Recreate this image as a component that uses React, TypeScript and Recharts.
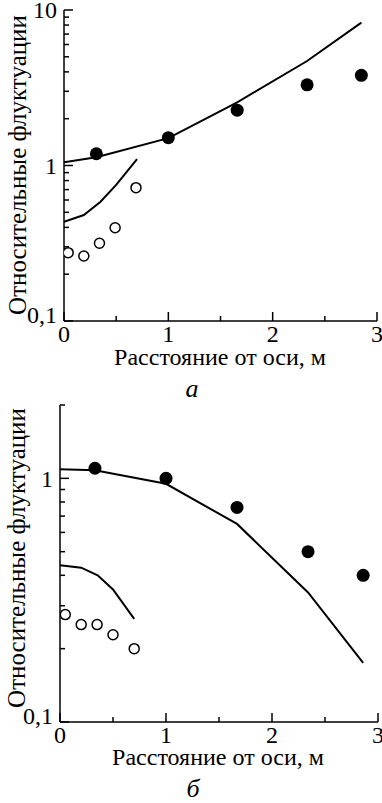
import React from "react";
import { ComposedChart, Line, Scatter, XAxis, YAxis } from "recharts";

// panel "а"
const aUpperLineX = [0, 0.31, 1.0, 1.66, 2.33, 2.85];
const aUpperLineY = [1.05, 1.13, 1.5, 2.55, 4.7, 8.3];
const aLowerLineX = [0, 0.19, 0.35, 0.5, 0.7];
const aLowerLineY = [0.435, 0.48, 0.585, 0.75, 1.1];
const aFilledX = [0.31, 1.0, 1.66, 2.33, 2.85];
const aFilledY = [1.19, 1.51, 2.27, 3.3, 3.8];
const aOpenX = [0.04, 0.19, 0.34, 0.49, 0.69];
const aOpenY = [0.275, 0.262, 0.316, 0.398, 0.72];

// panel "б"
const bUpperLineX = [0, 0.33, 1.0, 1.67, 2.34, 2.86];
const bUpperLineY = [1.09, 1.08, 0.95, 0.65, 0.34, 0.175];
const bLowerLineX = [0, 0.2, 0.355, 0.5, 0.7];
const bLowerLineY = [0.44, 0.43, 0.4, 0.35, 0.265];
const bFilledX = [0.33, 1.0, 1.67, 2.34, 2.86];
const bFilledY = [1.1, 1.0, 0.76, 0.5, 0.4];
const bOpenX = [0.05, 0.2, 0.35, 0.5, 0.7];
const bOpenY = [0.276, 0.251, 0.251, 0.228, 0.2];

const xTicks = [0, 0.5, 1, 1.5, 2, 2.5, 3];
const aYTicks = [0.1, 0.2, 0.3, 0.4, 0.5, 0.6, 0.7, 0.8, 0.9, 1, 2, 3, 4, 5, 6, 7, 8, 9, 10];
const bYTicks = [0.1, 0.2, 0.3, 0.4, 0.5, 0.6, 0.7, 0.8, 0.9, 1, 2];
const yLabels: Record<string, string> = { "0.1": "0,1", "1": "1", "10": "10" };

const FONT = '"Liberation Serif", "Times New Roman", serif';
const GAP = 7;

const zip = (xs: number[], ys: number[]) => xs.map((x, i) => ({ x, y: ys[i] }));

// ticks are drawn inside the plot, so the lines are part of the tick renderer
const XTick = (props: any) => {
  const { x, y, payload } = props;
  const axisY = y - GAP;
  const v = payload.value;
  const major = Number.isInteger(v);
  return (
    <g>
      <line x1={x} x2={x} y1={axisY} y2={axisY - (major ? 9 : 5)} stroke="#000" strokeWidth={1.5} />
      {major && (
        <text x={x} y={axisY + 4} dy="0.71em" textAnchor="middle" fontSize={24} fontFamily={FONT} fill="#000">
          {v}
        </text>
      )}
    </g>
  );
};

const YTick = (props: any) => {
  const { x, y, payload } = props;
  const axisX = x + GAP;
  const v = payload.value;
  const label = yLabels[String(v)];
  const major = label !== undefined;
  return (
    <g>
      <line x1={axisX} x2={axisX + (major ? 9 : 5)} y1={y} y2={y} stroke="#000" strokeWidth={1.5} />
      {label && (
        <text
          x={x}
          y={v === 0.1 ? y - 6 : y}
          dy="0.35em"
          textAnchor="end"
          fontSize={24}
          fontFamily={FONT}
          fill="#000"
        >
          {label}
        </text>
      )}
    </g>
  );
};

const filledDot = (p: any) => <circle cx={p.cx} cy={p.cy} r={6.5} fill="#000" />;
const openDot = (p: any) => <circle cx={p.cx} cy={p.cy} r={5} fill="#fff" stroke="#000" strokeWidth={1.5} />;

function Panel(props: {
  height: number;
  margin: any;
  yWidth: number;
  yDomain: [number, number];
  yTicks: number[];
  upper: { x: number; y: number }[];
  lower: { x: number; y: number }[];
  filled: { x: number; y: number }[];
  open: { x: number; y: number }[];
}) {
  return (
    <ComposedChart width={382} height={props.height} margin={props.margin} style={{ overflow: "visible" }}>
      <XAxis
        type="number"
        dataKey="x"
        domain={[0, 3]}
        ticks={xTicks}
        interval={0}
        tickSize={0}
        tickMargin={GAP}
        tickLine={false}
        tick={<XTick />}
        height={30}
        stroke="#000"
        strokeWidth={1.5}
        allowDataOverflow
      />
      <YAxis
        type="number"
        scale="log"
        domain={props.yDomain}
        ticks={props.yTicks}
        interval={0}
        tickSize={0}
        tickMargin={GAP}
        tickLine={false}
        tick={<YTick />}
        width={props.yWidth}
        stroke="#000"
        strokeWidth={1.5}
        allowDataOverflow
      />
      <Line data={props.upper} dataKey="y" stroke="#000" strokeWidth={2} dot={false} isAnimationActive={false} />
      <Line data={props.lower} dataKey="y" stroke="#000" strokeWidth={2} dot={false} isAnimationActive={false} />
      <Scatter data={props.filled} dataKey="y" shape={filledDot} isAnimationActive={false} />
      <Scatter data={props.open} dataKey="y" shape={openDot} isAnimationActive={false} />
    </ComposedChart>
  );
}

const textStyle: React.CSSProperties = {
  position: "absolute",
  fontFamily: FONT,
  whiteSpace: "nowrap",
  color: "#000",
  lineHeight: 1,
};

function YTitle({ cx, cy }: { cx: number; cy: number }) {
  return (
    <div
      style={{
        ...textStyle,
        left: cx,
        top: cy,
        fontSize: 25,
        transform: "translate(-50%, -50%) rotate(-90deg)",
      }}
    >
      Относительные флуктуации
    </div>
  );
}

function Caption({ cx, cy, text, size, italic }: { cx: number; cy: number; text: string; size: number; italic?: boolean }) {
  return (
    <div
      style={{
        ...textStyle,
        left: cx,
        top: cy,
        fontSize: size,
        fontStyle: italic ? "italic" : "normal",
        transform: "translate(-50%, -50%)",
      }}
    >
      {text}
    </div>
  );
}

export default function App() {
  return (
    <div style={{ position: "absolute", left: 0, top: 0, width: 382, height: 803, background: "#fff", overflow: "hidden" }}>
      <div style={{ position: "absolute", left: 0, top: 0 }}>
        <Panel
          height={400}
          margin={{ top: 10, right: 5, bottom: 49, left: 0 }}
          yWidth={64}
          yDomain={[0.1, 10]}
          yTicks={aYTicks}
          upper={zip(aUpperLineX, aUpperLineY)}
          lower={zip(aLowerLineX, aLowerLineY)}
          filled={zip(aFilledX, aFilledY)}
          open={zip(aOpenX, aOpenY)}
        />
      </div>
      <div style={{ position: "absolute", left: 0, top: 400 }}>
        <Panel
          height={403}
          margin={{ top: 5, right: 4, bottom: 51, left: 0 }}
          yWidth={60}
          yDomain={[0.1, 2]}
          yTicks={bYTicks}
          upper={zip(bUpperLineX, bUpperLineY)}
          lower={zip(bLowerLineX, bLowerLineY)}
          filled={zip(bFilledX, bFilledY)}
          open={zip(bOpenX, bOpenY)}
        />
      </div>
      <YTitle cx={17} cy={165} />
      <YTitle cx={16} cy={558} />
      <Caption cx={220} cy={357} text="Расстояние от оси, м" size={24} />
      <Caption cx={192} cy={389} text="а" size={26} italic />
      <Caption cx={218} cy={757} text="Расстояние от оси, м" size={24} />
      <Caption cx={193} cy={789} text="б" size={26} italic />
    </div>
  );
}
